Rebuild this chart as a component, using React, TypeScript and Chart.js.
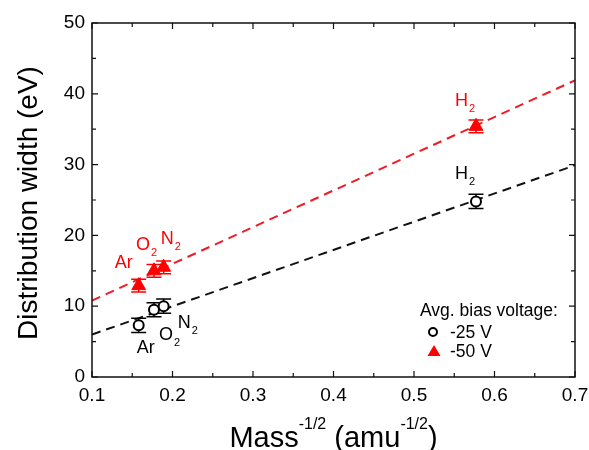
import { useEffect, useRef } from "react";
import { Chart, registerables } from "chart.js";

Chart.register(...registerables);

// ---------- data ----------
const gasNames = ["Ar", "O2", "N2", "H2"];
const massInvSqrt = [0.158, 0.177, 0.189, 0.577];
const width25V = [7.3, 9.5, 10.0, 24.8];
const error25V = [1.0, 1.0, 1.0, 1.0];
const width50V = [12.9, 15.0, 15.5, 35.4];
const error50V = [0.9, 0.9, 0.9, 0.9];
const fitRangeX = [0.1, 0.7];
const fit25V = [6.0, 29.9];
const fit50V = [10.8, 41.9];
const xTickValues = [0.1, 0.2, 0.3, 0.4, 0.5, 0.6, 0.7];
const xMinorTickValues = [0.15, 0.25, 0.35, 0.45, 0.55, 0.65];
const yTickValues = [0, 10, 20, 30, 40, 50];
const yMinorTickValues = [5, 15, 25, 35, 45];
const seriesNames = ["-25 V", "-50 V"];
const legendTitle = "Avg. bias voltage:";
const yTitle = "Distribution width (eV)";

// ---------- layout / style ----------
const RED = "#f00";
const BLACK = "#000";
const FONT = "'Liberation Sans', Arial, sans-serif";
// label offsets (px) relative to each point: [dx, dy] for left edge / baseline
const labelOffsets25 = [[-2, 28], [5, 30], [14, 22], [-21, -22]];
const labelOffsets50 = [[-24, -18], [-18, -21], [-3, -23], [-21, -20]];

function drawSubLabel(ctx: CanvasRenderingContext2D, name: string, x: number, y: number, color: string) {
  const m = name.match(/^([A-Za-z]+)(\d*)$/);
  const main = m ? m[1] : name;
  const sub = m ? m[2] : "";
  ctx.fillStyle = color;
  ctx.textAlign = "left";
  ctx.textBaseline = "alphabetic";
  ctx.font = `18px ${FONT}`;
  ctx.fillText(main, x, y);
  if (sub) {
    const w = ctx.measureText(main).width;
    ctx.font = `11px ${FONT}`;
    ctx.fillText(sub, x + w + 1, y + 6);
  }
}

const errorBarPlugin = {
  id: "errorBars",
  afterDatasetDraw(chart: any, args: any) {
    if (args.index !== 2) return;
    const ctx = chart.ctx as CanvasRenderingContext2D;
    const xs = chart.scales.x;
    const ys = chart.scales.y;
    const sets: [number[], number[], string][] = [
      [width25V, error25V, BLACK],
      [width50V, error50V, RED],
    ];
    sets.forEach(([vals, errs, color]) => {
      ctx.save();
      ctx.strokeStyle = color;
      ctx.lineWidth = 1.5;
      vals.forEach((v, i) => {
        const px = xs.getPixelForValue(massInvSqrt[i]);
        const top = ys.getPixelForValue(v + errs[i]);
        const bot = ys.getPixelForValue(v - errs[i]);
        ctx.beginPath();
        ctx.moveTo(px, top);
        ctx.lineTo(px, bot);
        ctx.moveTo(px - 7.5, top);
        ctx.lineTo(px + 7.5, top);
        ctx.moveTo(px - 7.5, bot);
        ctx.lineTo(px + 7.5, bot);
        ctx.stroke();
      });
      ctx.restore();
    });
  },
};

const decorPlugin = {
  id: "decor",
  afterDraw(chart: any) {
    const ctx = chart.ctx as CanvasRenderingContext2D;
    const { left, right, top, bottom } = chart.chartArea;
    const xs = chart.scales.x;
    const ys = chart.scales.y;
    ctx.save();
    // frame
    ctx.strokeStyle = "#111";
    ctx.lineWidth = 1.5;
    ctx.strokeRect(left, top, right - left, bottom - top);
    // inward ticks
    ctx.lineWidth = 1.2;
    ctx.beginPath();
    const xt = (vals: number[], len: number) =>
      vals.forEach((v) => {
        const px = xs.getPixelForValue(v);
        ctx.moveTo(px, bottom);
        ctx.lineTo(px, bottom - len);
        ctx.moveTo(px, top);
        ctx.lineTo(px, top + len);
      });
    const yt = (vals: number[], len: number) =>
      vals.forEach((v) => {
        const py = ys.getPixelForValue(v);
        ctx.moveTo(left, py);
        ctx.lineTo(left + len, py);
        ctx.moveTo(right, py);
        ctx.lineTo(right - len, py);
      });
    xt(xTickValues, 6);
    xt(xMinorTickValues, 4);
    yt(yTickValues, 6);
    yt(yMinorTickValues, 4);
    ctx.stroke();

    // point labels
    gasNames.forEach((g, i) => {
      const px = xs.getPixelForValue(massInvSqrt[i]);
      const p25 = ys.getPixelForValue(width25V[i]);
      const p50 = ys.getPixelForValue(width50V[i]);
      drawSubLabel(ctx, g, px + labelOffsets25[i][0], p25 + labelOffsets25[i][1], BLACK);
      drawSubLabel(ctx, g, px + labelOffsets50[i][0], p50 + labelOffsets50[i][1], RED);
    });

    // legend
    ctx.fillStyle = BLACK;
    ctx.font = `17.5px ${FONT}`;
    ctx.textAlign = "left";
    ctx.textBaseline = "alphabetic";
    const lx = right - 155;
    const ly = bottom - 61;
    ctx.fillText(legendTitle, lx, ly);
    ctx.fillText(seriesNames[0], lx + 30, ly + 22);
    ctx.fillText(seriesNames[1], lx + 30, ly + 41);
    // legend markers
    ctx.beginPath();
    ctx.strokeStyle = BLACK;
    ctx.lineWidth = 2;
    ctx.arc(lx + 13, ly + 16, 4, 0, Math.PI * 2);
    ctx.stroke();
    ctx.fillStyle = RED;
    ctx.beginPath();
    const tx = lx + 14;
    const ty = ly + 35;
    ctx.moveTo(tx, ty - 6);
    ctx.lineTo(tx + 6.5, ty + 5);
    ctx.lineTo(tx - 6.5, ty + 5);
    ctx.closePath();
    ctx.fill();

    // axis titles
    ctx.fillStyle = BLACK;
    const segs: [string, boolean][] = [
      ["Mass", false],
      ["-1/2", true],
      [" (amu", false],
      ["-1/2", true],
      [")", false],
    ];
    const mainFont = `29px ${FONT}`;
    const supFont = `16px ${FONT}`;
    let total = 0;
    segs.forEach(([t, s]) => {
      ctx.font = s ? supFont : mainFont;
      total += ctx.measureText(t).width;
    });
    let cx = (left + right) / 2 - total / 2;
    const baseY = 447;
    segs.forEach(([t, s]) => {
      ctx.font = s ? supFont : mainFont;
      ctx.fillText(t, cx, s ? baseY - 18 : baseY);
      cx += ctx.measureText(t).width;
    });
    // y title
    ctx.save();
    ctx.translate(37, (top + bottom) / 2 + 3);
    ctx.rotate(-Math.PI / 2);
    ctx.font = `28px ${FONT}`;
    ctx.textAlign = "center";
    ctx.fillText(yTitle, 0, 0);
    ctx.restore();

    ctx.restore();
  },
};

export default function App() {
  const ref = useRef<HTMLCanvasElement | null>(null);
  useEffect(() => {
    document.body.style.margin = "0";
    if (!ref.current) return;
    const chart = new Chart(ref.current, {
      type: "scatter",
      data: {
        datasets: [
          {
            label: seriesNames[0],
            data: massInvSqrt.map((x, i) => ({ x, y: width25V[i] })),
            pointStyle: "circle",
            pointRadius: 5,
            pointBorderWidth: 2,
            borderColor: BLACK,
            backgroundColor: "#fff",
            showLine: false,
          },
          {
            label: seriesNames[1],
            data: massInvSqrt.map((x, i) => ({ x, y: width50V[i] })),
            pointStyle: "triangle",
            pointRadius: 8,
            pointBorderWidth: 1,
            borderColor: RED,
            backgroundColor: RED,
            showLine: false,
          },
          {
            type: "line",
            label: "fit -25 V",
            data: fitRangeX.map((x, i) => ({ x, y: fit25V[i] })),
            borderColor: "#111",
            borderWidth: 2,
            borderDash: [9, 6],
            pointRadius: 0,
            fill: false,
          },
          {
            type: "line",
            label: "fit -50 V",
            data: fitRangeX.map((x, i) => ({ x, y: fit50V[i] })),
            borderColor: "#ee1c25",
            borderWidth: 2,
            borderDash: [9, 6],
            pointRadius: 0,
            fill: false,
          },
        ] as any,
      },
      options: {
        responsive: false,
        maintainAspectRatio: false,
        animation: false,
        devicePixelRatio: 1,
        layout: { padding: { top: 23, right: 14, left: 0, bottom: 0 } },
        plugins: {
          legend: { display: false },
          tooltip: { enabled: false },
        },
        scales: {
          x: {
            type: "linear",
            min: 0.1,
            max: 0.7,
            afterBuildTicks: (scale: any) => {
              scale.ticks = xTickValues.map((v) => ({ value: v }));
            },
            afterFit: (scale: any) => {
              scale.height = 73;
              scale.paddingLeft = 0;
              scale.paddingRight = 0;
            },
            grid: { display: false, drawTicks: false },
            border: { display: false },
            ticks: {
              color: BLACK,
              padding: 7,
              font: { family: FONT, size: 19 },
              callback: (v: any) => Number(v).toFixed(1),
              maxRotation: 0,
              autoSkip: false,
            },
          },
          y: {
            type: "linear",
            min: 0,
            max: 50,
            afterBuildTicks: (scale: any) => {
              scale.ticks = yTickValues.map((v) => ({ value: v }));
            },
            afterFit: (scale: any) => {
              scale.width = 92;
              scale.paddingTop = 0;
              scale.paddingBottom = 0;
            },
            grid: { display: false, drawTicks: false },
            border: { display: false },
            ticks: {
              color: BLACK,
              padding: 7,
              font: { family: FONT, size: 19 },
              callback: (v: any) => String(v),
              autoSkip: false,
            },
          },
        },
      },
      plugins: [errorBarPlugin, decorPlugin],
    } as any);
    return () => chart.destroy();
  }, []);
  return (
    <div style={{ width: 589, height: 450 }}>
      <canvas ref={ref} width={589} height={450} style={{ display: "block" }} />
    </div>
  );
}
